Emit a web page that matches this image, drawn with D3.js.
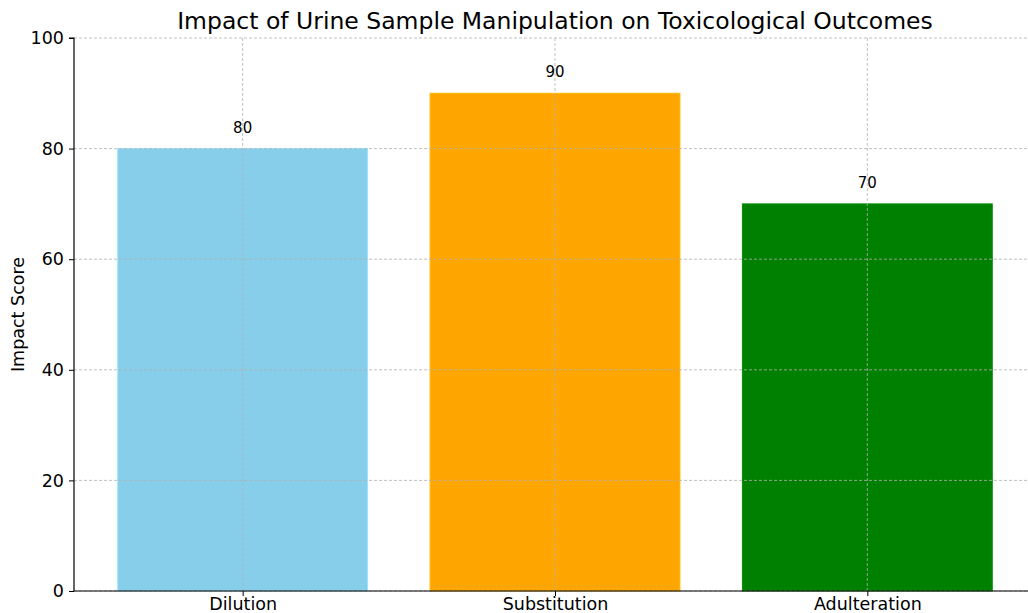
<!DOCTYPE html>
<html>
<head>
<meta charset="utf-8">
<script src="https://cdn.jsdelivr.net/npm/d3@7"></script>
<style>
  body { margin: 0; background: #fff; }
  text { font-family: "DejaVu Sans", sans-serif; fill: #000; }
</style>
</head>
<body>
<script>
const width = 1028;
const height = 613;
const margin = { l: 74, r: -8, t: 38, b: 22 };

const categories = ["Dilution", "Substitution", "Adulteration"];
const impactValues = [80, 90, 70];
const barColors = ["#87CEEB", "#FFA500", "#008000"];
const yTicks = [0, 20, 40, 60, 80, 100];

const svg = d3.select("body")
  .append("svg")
  .attr("width", width)
  .attr("height", height);

const plotW = width - margin.l - margin.r;
const plotH = height - margin.t - margin.b;

// matplotlib-like continuous x: bars at 0,1,2 width 0.8, xlim -0.54..2.54
const x = d3.scaleLinear().domain([-0.54, 2.54]).range([margin.l, margin.l + plotW]);
const y = d3.scaleLinear().domain([0, 100]).range([margin.t + plotH, margin.t]);

// bars
svg.append("g")
  .selectAll("rect")
  .data(impactValues)
  .join("rect")
  .attr("x", (d, i) => x(i - 0.4))
  .attr("width", (d, i) => x(i + 0.4) - x(i - 0.4))
  .attr("y", d => y(d))
  .attr("height", d => y(0) - y(d))
  .attr("fill", (d, i) => barColors[i])
  .attr("stroke", (d, i) => d3.color(barColors[i]).brighter(0.3))
  .attr("stroke-width", 1);

// grid (on top of bars)
const grid = svg.append("g")
  .attr("stroke", "#b0b0b0")
  .attr("stroke-width", 0.8)
  .attr("stroke-dasharray", "3,2");
grid.selectAll("line.h")
  .data(yTicks)
  .join("line")
  .attr("x1", margin.l)
  .attr("x2", margin.l + plotW)
  .attr("y1", d => y(d))
  .attr("y2", d => y(d));
grid.selectAll("line.v")
  .data(categories)
  .join("line")
  .attr("x1", (d, i) => x(i))
  .attr("x2", (d, i) => x(i))
  .attr("y1", y(0))
  .attr("y2", y(100));

// value labels
svg.append("g")
  .selectAll("text")
  .data(impactValues)
  .join("text")
  .attr("x", (d, i) => x(i))
  .attr("y", d => y(d) - 16)
  .attr("text-anchor", "middle")
  .style("font-size", "15px")
  .text(d => d);

// axes
const yAxis = d3.axisLeft(y).tickValues(yTicks).tickSize(5).tickPadding(5);
const gy = svg.append("g")
  .attr("transform", `translate(${margin.l},0)`)
  .call(yAxis);
gy.select(".domain").attr("stroke", "#000").attr("stroke-width", 1.2).attr("d", `M-5,${y(100)}H0V${y(0)}`);
gy.selectAll("text").style("font-size", "17.5px").style("font-family", "DejaVu Sans");

const xAxis = d3.axisBottom(x).tickValues([0, 1, 2]).tickFormat(i => categories[i]).tickSize(5).tickPadding(2);
const gx = svg.append("g")
  .attr("transform", `translate(0,${y(0)})`)
  .call(xAxis);
gx.select(".domain").attr("stroke", "#000").attr("stroke-width", 1.2).attr("d", `M${margin.l},0H${margin.l + plotW}`);
gx.selectAll("text").style("font-size", "17.5px").style("font-family", "DejaVu Sans");

// axis label
svg.append("text")
  .attr("transform", `translate(24,${y(50)}) rotate(-90)`)
  .attr("text-anchor", "middle")
  .style("font-size", "17.5px")
  .text("Impact Score");

// title
svg.append("text")
  .attr("x", x(1))
  .attr("y", 29)
  .attr("text-anchor", "middle")
  .style("font-size", "23.5px")
  .text("Impact of Urine Sample Manipulation on Toxicological Outcomes");
</script>
</body>
</html>
